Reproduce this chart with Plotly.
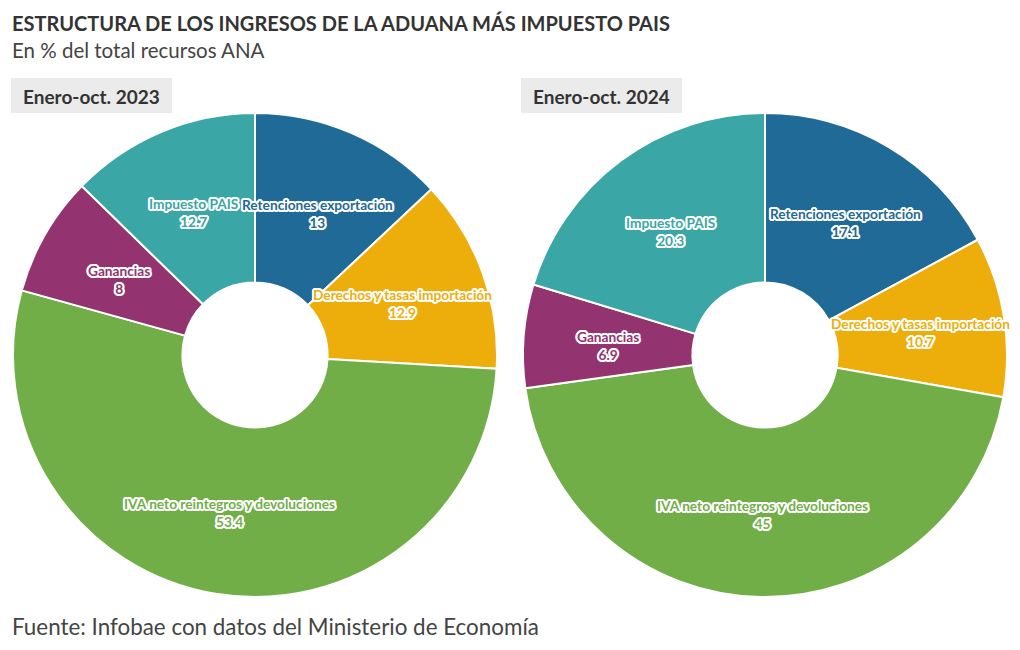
import math
import plotly.graph_objects as go

categories = ["Retenciones exportación", "Derechos y tasas importación",
              "IVA neto reintegros y devoluciones", "Ganancias", "Impuesto PAIS"]
values_2023 = [13, 12.9, 53.4, 8, 12.7]
values_2024 = [17.1, 10.7, 45, 6.9, 20.3]
value_text_2023 = ["13", "12.9", "53.4", "8", "12.7"]
value_text_2024 = ["17.1", "10.7", "45", "6.9", "20.3"]
panel_titles = ["Enero-oct. 2023", "Enero-oct. 2024"]
colors = ["#1f6a96", "#edae0b", "#71ae48", "#93336f", "#3aa6a5"]

OFF = 8  # page body margin
W, H = 1020 - OFF, 650 - OFF
FONT = "Lato"
R = 242
HOLE = 0.30
centers = [(255, 355), (765, 355)]


def px(x):
    return (x - OFF) / W


def py(y):
    return 1 - (y - OFF) / H


fig = go.Figure()
outline = ", ".join(f"{dx}px {dy}px 0.5px #fff" for dx in (-2, -1, 0, 1, 2) for dy in (-2, -1, 0, 1, 2)
                    if (dx, dy) != (0, 0) and abs(dx) + abs(dy) <= 3)

annotations = []
shapes = []
for (cx, cy), vals, vtext, ptitle in zip(centers, [values_2023, values_2024],
                                          [value_text_2023, value_text_2024], panel_titles):
    fig.add_trace(go.Pie(
        labels=categories, values=vals, sort=False, direction="clockwise", rotation=0,
        hole=HOLE, marker=dict(colors=colors, line=dict(color="white", width=2)),
        textinfo="none", hoverinfo="label+value", showlegend=False,
        domain=dict(x=[px(cx - R), px(cx + R)], y=[py(cy + R), py(cy - R)]),
    ))
    total = sum(vals)
    cum = 0
    rmid = R * (1 + HOLE) / 2
    for cat, v, t, col in zip(categories, vals, vtext, colors):
        ang = 2 * math.pi * (cum + v / 2) / total
        cum += v
        lx = cx + rmid * math.sin(ang)
        ly = cy - rmid * math.cos(ang) + 2.5
        annotations.append(dict(
            x=px(lx), y=py(ly), xref="paper", yref="paper", showarrow=False,
            text=f"<b>{cat}<br>{t}</b>", align="center", xanchor="center", yanchor="middle",
            font=dict(family=FONT, size=13.7, color=col, shadow=outline),
        ))
    x0 = cx - 244
    shapes.append(dict(type="rect", xref="paper", yref="paper",
                       x0=px(x0), x1=px(x0 + 161), y0=py(113), y1=py(78),
                       fillcolor="#ebebeb", line=dict(width=0), layer="below"))
    annotations.append(dict(x=px(x0 + 80.5), y=py(96), xref="paper", yref="paper",
                            showarrow=False, text=f"<b>{ptitle}</b>", xanchor="center",
                            yanchor="middle", font=dict(family=FONT, size=19, color="#333333")))

annotations += [
    dict(x=px(10), y=py(23), xref="paper", yref="paper", showarrow=False, xanchor="left",
         yanchor="middle", text="<b>ESTRUCTURA DE LOS INGRESOS DE LA ADUANA MÁS IMPUESTO PAIS</b>",
         font=dict(family=FONT, size=20, color="#333333")),
    dict(x=px(10), y=py(50), xref="paper", yref="paper", showarrow=False, xanchor="left",
         yanchor="middle", text="En % del total recursos ANA",
         font=dict(family=FONT, size=20.5, color="#444444")),
    dict(x=px(10), y=py(626), xref="paper", yref="paper", showarrow=False, xanchor="left",
         yanchor="middle", text="Fuente: Infobae con datos del Ministerio de Economía",
         font=dict(family=FONT, size=22.4, color="#444444")),
]

fig.update_layout(width=W, height=H, margin=dict(l=0, r=0, t=0, b=0),
                  paper_bgcolor="white", plot_bgcolor="white",
                  annotations=annotations, shapes=shapes, font=dict(family=FONT))
fig.write_html("out.html")
